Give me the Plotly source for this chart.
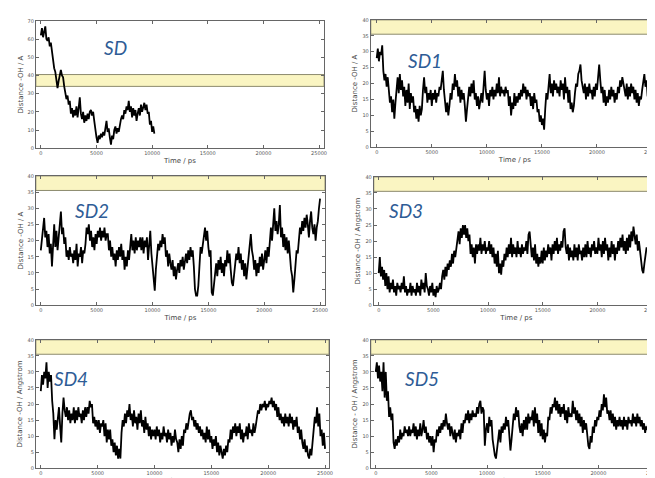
import plotly.graph_objects as go

step = 100  # ps between samples

sd_vals = [62,66,61,65,67,60,59,61,56,58,
           52,49,44,42,38,33,37,41,43,40,
           39,34,30,27,29,24,26,19,22,17,
           21,18,23,17,22,28,19,16,20,14,
           18,15,19,16,20,21,18,20,15,9,
           6,3,7,5,8,6,9,7,10,15,
           9,11,6,2,7,5,10,12,8,11,
           9,13,16,18,16,21,19,23,21,26,
           20,23,17,22,18,21,15,19,22,18,
           24,20,22,25,21,24,19,20,13,15,
           9,12,8]

sd1_vals = [28,31,27,30,29,32,24,21,23,19,
            22,17,14,16,11,15,9,14,19,22,
            17,23,18,21,16,19,13,18,14,20,
            12,17,14,16,11,13,9,12,8,13,
            10,12,18,22,17,19,14,17,15,18,
            13,17,15,18,14,17,16,19,18,21,
            24,18,15,11,14,10,13,17,15,20,
            18,23,19,21,16,19,14,18,15,17,
            13,8,12,15,19,16,20,17,21,15,
            17,13,16,12,15,17,14,19,24,18,
            15,17,13,18,16,19,15,18,16,20,
            17,22,16,19,17,18,16,19,17,18,
            13,16,10,14,12,17,13,16,14,17,
            15,18,16,20,17,19,15,18,16,17,
            13,16,12,17,14,15,11,12,8,10,
            7,9,5.5,12,17,15,21,23,17,20,
            16,21,18,20,17,19,16,21,18,20,
            15,22,17,19,14,18,12,14,11,13,
            17,20,19,23,24,26,21,19,17,20,
            15,19,16,20,17,18,15,19,16,20,
            18,22,26,21,17,19,14,18,13,16,
            14,18,15,19,16,18,14,17,15,19,
            17,21,19,22,20,18,16,20,15,19,
            16,20,17,19,15,18,14,17,13,16,
            15,18,21,23,19,21,16,18,15,17,
            16]

sd2_vals = [17,20,24,27,21,23,18,22,16,19,
            12,20,25,18,23,17,22,26,29,22,
            24,19,21,15,17,14,18,15,16,13,
            17,14,19,12,16,15,18,13,17,16,
            19,24,22,25,20,23,18,21,17,22,
            19,23,21,24,20,23,21,24,20,22,
            22,17,20,15,18,14,16,12,17,14,
            18,15,19,14,17,11,15,12,17,14,
            19,22,17,20,16,21,17,20,18,21,
            17,21,16,20,18,21,14,19,23,16,
            12,9,4.5,11,16,19,17,20,18,22,
            19,21,15,17,12,16,13,11,14,9,
            12,8,11,13,10,14,12,15,11,14,
            16,13,17,14,18,15,17,12,5,3,
            3,6,15,18,16,19,21,24,20,23,
            18,15,17,4,3,7,10,13,9,14,
            11,15,10,13,9,14,12,17,13,16,
            11,7,6,10,13,16,14,18,13,16,
            11,14,9,13,8,12,15,19,22,17,
            15,11,14,9,13,10,15,12,16,11,
            14,17,13,18,15,21,24,20,27,30,
            23,26,22,25,31,21,24,18,22,17,
            21,16,20,14,11,9,4,8,14,17,
            16,21,24,22,26,23,27,24,28,25,
            21,26,29,24,22,25,20,24,26,30,
            33]

sd3_vals = [10,15,9,12,8,11,6,10,5,9,
            4,7,5,8,4,6,3,7,5,6,
            4,7,5,9,4,6,3,5,4,7,
            3,6,4,5,3,7,4,6,3,8,
            5,7,4,10,6,5,3,6,4,7,
            3,5,2.5,6,4,5,7,5,9,11,
            8,12,9,13,11,14,12,16,13,17,
            15,18,20,23,19,24,21,25,22,25,
            21,24,20,22,16,19,15,18,13,19,
            16,19,17,21,16,19,17,20,16,18,
            17,20,16,19,15,18,13,16,12,17,
            10,13,9.5,14,12,16,14,18,15,19,
            16,21,15,19,16,18,15,20,16,18,
            15,19,16,18,17,20,16,22,23,18,
            15,18,14,19,13,16,12,15,13,17,
            13,18,14,17,15,19,16,18,14,19,
            16,20,17,21,16,19,17,20,18,23,
            24,18,16,19,14,18,15,17,14,19,
            15,18,14,19,16,17,14,18,15,19,
            15,20,16,18,15,19,17,20,16,18,
            16,21,17,19,15,20,16,21,17,19,
            14,18,15,20,16,19,14,18,16,20,
            17,21,18,22,17,20,16,21,17,22,
            18,23,20,24.5,21,19,22,17,20,16,
            14,11,10,13,16,18,17,20,18,21,
            19]

sd4_vals = [24,29,26,30,28,33,25,30,27,29,
            21,17,9,15,12,17,19,13,8,17,
            22,18,16,19,15,18,14,17,15,19,
            14,18,15,19,16,17,14,18,15,19,
            16,19,17,21,19,20,14,16,13,15,
            12,15,11,14,13,15,10,14,8,12,
            9,12,7,9,5,8,4,7,3,6,
            3,11,15,13,17,14,18,16,20,15,
            17,13,18,14,16,12,17,14,18,13,
            15,11,16,12,14,10,13,9,12,10,
            12,9,13,10,12,8,11,9,13,10,
            11,8,12,9,11,7,10,8,12,9,
            8,5,9,6,10,7,12,11,14,12,
            15,17,18,15,16,13,15,12,14,11,
            13,10,12,9,11,8,13,9,12,8,
            10,6,9,7,10,5,8,4,7,5,
            3,6,4,7,5,9,8,12,9,13,
            11,14,10,13,11,14,9,12,8,11,
            10,13,9,14,11,12,10,14,11,13,
            15,18,17,20,18,20,19,21,18,20,
            19,21,20,22,19,21,18,20,16,19,
            15,17,14,16,13,17,14,16,13,17,
            14,16,12,15,13,16,11,13,9,12,
            8,6,9,5,7,4,3,6,4,8,
            12,16,14,19,13,17,10,12,7,11,
            6]

sd5_vals = [30,33,28,32,27,30,24,33,22,30,
            21,24,16,19,15,17,8,6,9,7,
            10,8,12,9,11,10,13,11,12,10,
            13,10,12,11,14,10,13,9,12,10,
            14,10,12,15,11,13,9,11,8,10,
            7,10,5,9,8,12,10,13,11,14,
            12,15,13,17,14,12,14,10,13,11,
            9,12,8,11,10,12,9,14,11,15,
            14,17,15,18,14,17,15,18,16,17,
            16,19,17,20,21,17,19,18,7,12,
            14,11,16,13,15,9,6,4,3,7,
            9,12,8,13,11,14,12,16,13,15,
            8,5.5,9,14,17,15,19,16,18,13,
            11,14,10,15,12,16,12,17,14,16,
            15,18,13,19,14,17,11,15,10,14,
            9,12,8,11,10,16,15,19,17,20,
            19,22,18,21,17,20,16,19,17,20,
            15,18,14,19,16,17,16,21,17,19,
            15,18,14,17,13,16,11,15,12,14,
            9,7,6,10,8,13,11,15,13,16,
            15,18,16,20,18,23,19,22,17,18,
            15,18,14,17,13,16,12,15,13,16,
            13,15,12,16,13,15,12,16,14,15,
            13,17,14,16,13,17,14,16,13,15,
            12,14,11,13,12,17,19,21,18,20,
            16]

labels = ["SD", "SD1", "SD2", "SD3", "SD4", "SD5"]
series = [sd_vals, sd1_vals, sd2_vals, sd3_vals, sd4_vals, sd5_vals]
y_titles = ["Distance -OH / A", "Distance -OH / A", "Distance -OH / A",
            "Distance -OH / Angstrom", "Distance -OH / Angstrom",
            "Distance - OH / Angstrom"]
y_max = [70, 40, 40, 40, 40, 40]
y_dtick = [10, 5, 5, 5, 5, 5]
band_lo = [34, 35.5, 35.5, 35.5, 35.5, 35.5]
band_hi = [40.5, 40, 40, 40, 40, 40]
x_ticks = [0, 5000, 10000, 15000, 20000, 25000]

W, H = 655, 478
# pixel boxes (left, right, top, bottom) and x ranges
boxes = [(28, 318, 10, 139), (365, 655, 9, 138),
         (28, 319, 167, 298), (368, 655, 168, 298),
         (28, 323, 333, 463), (365, 655, 333, 463)]
x_ranges = [[-450, 25450], [-540, 25630], [-445, 25445],
            [-455, 25636], [-437, 25350], [-446, 25446]]
label_pos = [(108, 37), (420, 50), (85, 202), (400, 202), (63, 372), (417, 372)]

fig = go.Figure()
layout = dict(width=W, height=H, margin=dict(l=0, r=0, t=0, b=0),
              paper_bgcolor="white", plot_bgcolor="white", showlegend=False,
              shapes=[], annotations=[])

axcol = "#666666"
tickfont = dict(family="DejaVu Sans", size=5, color="#555555")
titlefont = dict(family="DejaVu Sans", size=7, color="#444444")

for i in range(6):
    n = "" if i == 0 else str(i + 1)
    xs = [k * step for k in range(len(series[i]))]
    fig.add_trace(go.Scatter(x=xs, y=series[i], mode="lines",
                             line=dict(color="black", width=1.8),
                             xaxis="x" + n, yaxis="y" + n, hoverinfo="skip"))
    l, r, t, b = boxes[i]
    right_col = (i % 2 == 1)
    layout["xaxis" + n] = dict(
        domain=[l / W, r / W], range=x_ranges[i], anchor="y" + n,
        tickvals=x_ticks, ticktext=[str(v) for v in x_ticks],
        ticks="inside", ticklen=3, tickcolor=axcol, tickfont=tickfont,
        showline=True, linecolor=axcol, linewidth=1, mirror="allticks",
        showgrid=False, zeroline=False,
        title=dict(text="Time / ps", font=titlefont, standoff=2))
    layout["yaxis" + n] = dict(
        domain=[1 - b / H, 1 - t / H], range=[0, y_max[i]], anchor="x" + n,
        dtick=y_dtick[i], tick0=0,
        ticks="inside", ticklen=3, tickcolor=axcol, tickfont=tickfont,
        showline=True, linecolor=axcol, linewidth=1,
        mirror=False if right_col else "allticks",
        showgrid=False, zeroline=False,
        title=dict(text=y_titles[i], font=titlefont, standoff=3))
    layout["shapes"].append(dict(
        type="rect", xref="x" + n, yref="y" + n, layer="below",
        x0=x_ranges[i][0], x1=x_ranges[i][1], y0=band_lo[i], y1=band_hi[i],
        fillcolor="#FAF5C2", line=dict(color="#8C8A6E", width=1)))
    lx, ly = label_pos[i]
    layout["annotations"].append(dict(
        text="<i>" + labels[i] + "</i>", x=lx / W, y=1 - ly / H,
        xref="paper", yref="paper", showarrow=False,
        xanchor="center", yanchor="middle",
        font=dict(family="Lato", size=19, color="#2E5C96")))

fig.update_layout(**layout)
fig.write_html("out.html")
